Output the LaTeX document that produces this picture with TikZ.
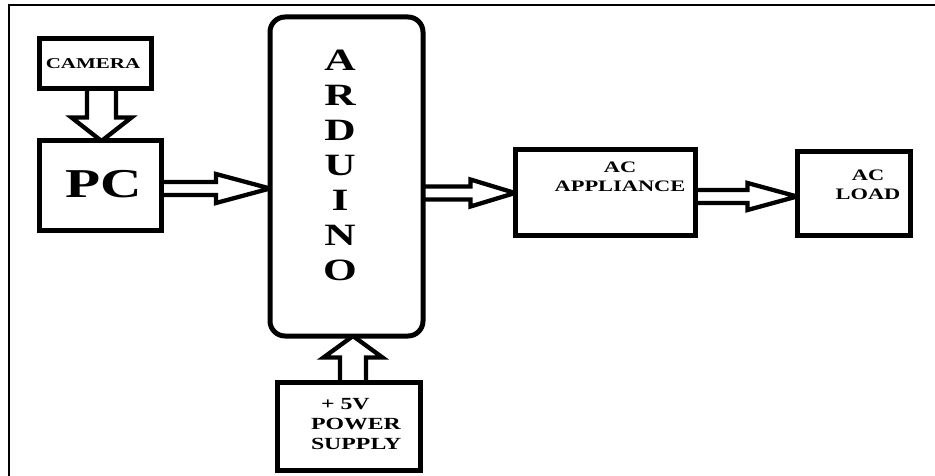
\documentclass[tikz,border=0pt]{standalone}
\usepackage{fontspec}
\setmainfont{Liberation Serif}[FakeStretch=1.4]
\newfontfamily\bft{Liberation Serif Bold}[FakeStretch=1.4]
\usetikzlibrary{calc}
\pgfdeclarelayer{bg}
\pgfsetlayers{bg,main}
\tikzset{
  box/.style={draw, line width=5pt, inner sep=0pt, outer sep=0pt, fill=white},
  barrow/.style={draw, line width=4.3pt, fill=white, line join=miter},
  txt/.style={inner sep=0pt, outer sep=0pt, text=black},
  frame/.style={draw, line width=2pt},
}
\newcommand\fs[2]{\bft\fontsize{#1}{#2}\selectfont}
% #1 start, #2 tip, #3 shaft half width, #4 head half width, #5 head length
\newcommand\blockarrow[5]{%
  \coordinate (hb) at ($(#2)!#5!(#1)$);
  \draw[barrow] ($(#1)!#3!90:(#2)$) -- ($(hb)!#3!-90:(#1)$) -- ($(hb)!#4!-90:(#1)$) -- (#2)
    -- ($(hb)!#4!90:(#1)$) -- ($(hb)!#3!90:(#1)$) -- ($(#1)!#3!-90:(#2)$);
}
\begin{document}
\begin{tikzpicture}[x=1pt,y=-1pt]
\useasboundingbox (0,0) rectangle (935,476);
\draw[frame] (9,476) -- (9,5) -- (935,5);

\node[box, minimum width=112pt, minimum height=50pt] (camera) at (95,64) {};
\node[box, minimum width=122pt, minimum height=89pt] (pc) at (100,185.5) {};
\node[box, rounded corners=15pt, minimum width=153pt, minimum height=319pt] (ard) at (346.5,176.5) {};
\node[box, minimum width=180pt, minimum height=85pt] (app) at (605,192.5) {};
\node[box, minimum width=113pt, minimum height=83pt] (load) at (853.5,193.5) {};
\node[box, minimum width=143pt, minimum height=88pt] (psu) at (348.5,426) {};

\node[txt, anchor=base, font=\fs{15}{17}] (camtxt) at (93,68.5) {CAMERA};
\node[txt, anchor=base, font=\fs{41}{44}] (pctxt) at (103.5,197.5) {PC};
\node[txt, anchor=north, align=center, font=\fs{31}{35}] (ardtxt) at (340,50) {A\\R\\D\\U\\I\\N\\O};
\node[txt, anchor=north, align=center, font=\fs{16}{19}] (apptxt) at (620,162) {AC\\APPLIANCE};
\node[txt, anchor=north, align=center, font=\fs{16}{18.5}] (loadtxt) at (868,170) {AC\\LOAD};
\node[txt, anchor=north west, align=left, font=\fs{17}{20}] (psutxt) at (311,398) {\hspace*{10pt}+ 5V\\POWER\\SUPPLY};

\coordinate (a1s) at ($(camera.south)+(6.5,0)$);
\coordinate (a1e) at (a1s |- pc.north);
\coordinate (a2s) at ($(pc.east)+(0,3)$);
\coordinate (a2e) at (a2s -| ard.west);
\coordinate (a3s) at ($(ard.east)+(0,16.5)$);
\coordinate (a3e) at (a3s -| app.west);
\coordinate (a4s) at ($(app.east)+(0,4)$);
\coordinate (a4e) at (a4s -| load.west);
\coordinate (a5s) at ($(psu.north)+(4.5,0)$);
\coordinate (a5e) at (a5s |- ard.south);

\begin{pgfonlayer}{bg}
\blockarrow{a1s}{a1e}{14.5pt}{30pt}{23.5pt}
\blockarrow{a2s}{a2e}{6.5pt}{14.5pt}{54pt}
\blockarrow{a3s}{a3e}{6.5pt}{13.5pt}{44.5pt}
\blockarrow{a4s}{a4e}{6.5pt}{13.5pt}{49.5pt}
\blockarrow{a5s}{a5e}{13pt}{29.5pt}{21.5pt}
\end{pgfonlayer}
\end{tikzpicture}
\end{document}
